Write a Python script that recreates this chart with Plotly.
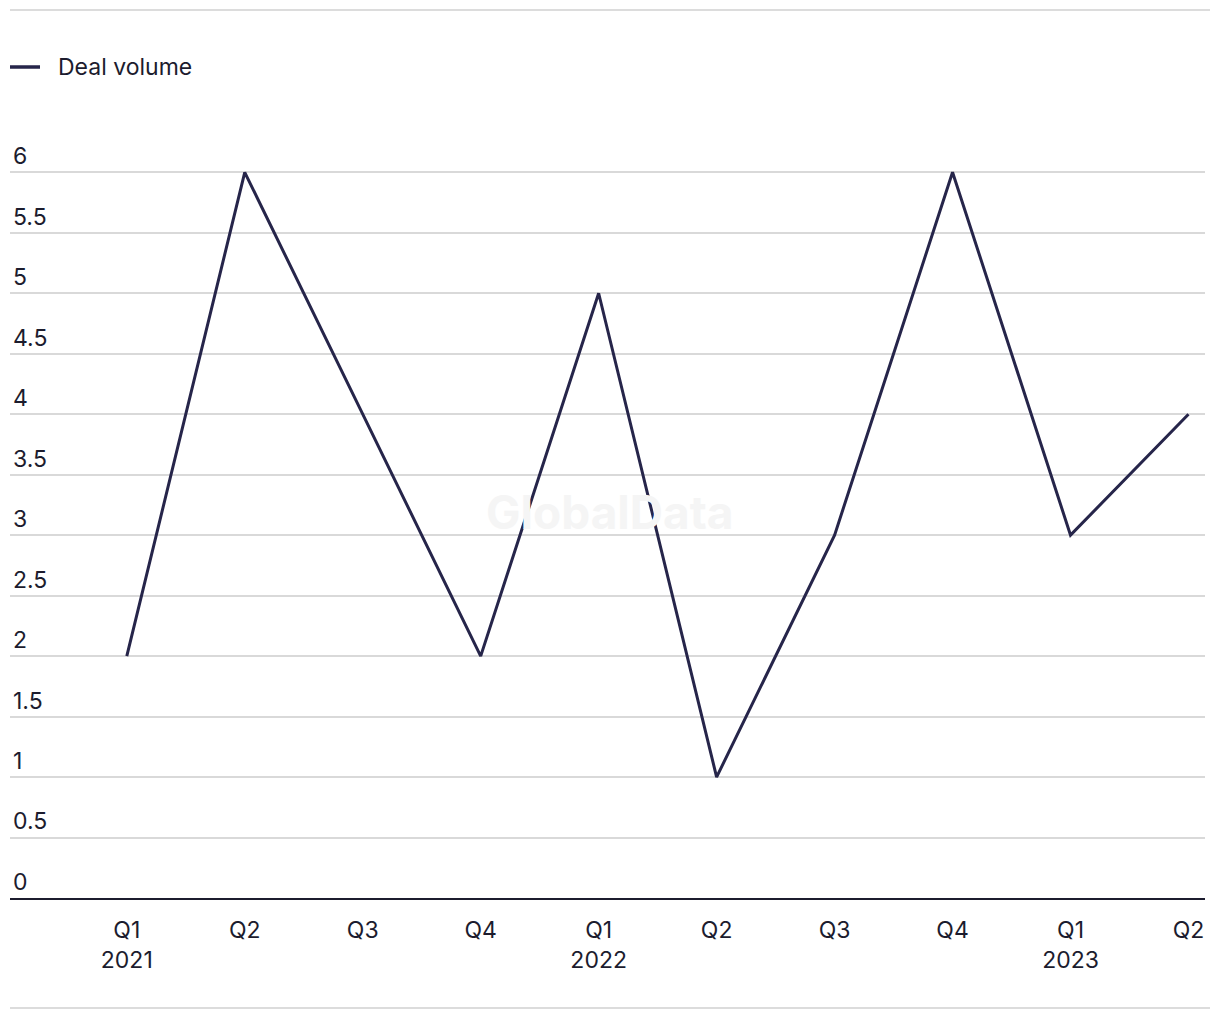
import plotly.graph_objects as go

quarters = ["Q1<br>2021", "Q2", "Q3", "Q4", "Q1<br>2022", "Q2", "Q3", "Q4", "Q1<br>2023", "Q2"]
deal_volume = [2, 6, 4, 2, 5, 1, 3, 6, 3, 4]
y_ticks = [0, 0.5, 1, 1.5, 2, 2.5, 3, 3.5, 4, 4.5, 5, 5.5, 6]
y_tick_text = ["0", "0.5", "1", "1.5", "2", "2.5", "3", "3.5", "4", "4.5", "5", "5.5", "6"]
series_name = "Deal volume"

x_idx = list(range(len(quarters)))
text_color = "#1c1c2e"
line_color = "#26254a"
font_family = "Inter, 'Liberation Sans', sans-serif"

W, H = 1212, 1012
L, R, T, B = 2, 15, 128, 122
plot_w = W - L - R
plot_h = H - T - B


def py(screen_y):
    # screen y (page px, figure offset by 8px body margin) -> paper y
    return (H + 8 - B - screen_y) / plot_h


def px(screen_x):
    return (screen_x - 8 - L) / plot_w


fig = go.Figure()
fig.add_trace(go.Scatter(
    x=x_idx, y=deal_volume, mode="lines", name=series_name,
    line=dict(color=line_color, width=3), cliponaxis=False, showlegend=False,
))

fig.update_layout(
    width=W, height=H,
    margin=dict(l=L, r=R, t=T, b=B),
    paper_bgcolor="white", plot_bgcolor="white",
    font=dict(family=font_family, size=23, color=text_color),
    showlegend=False,
    xaxis=dict(
        range=[-0.99, 9.14], tickmode="array", tickvals=x_idx, ticktext=quarters,
        showgrid=False, zeroline=False, showline=True, linecolor="#1c1c2e", linewidth=2,
        ticks="", ticklabelstandoff=10, tickfont=dict(size=23, color=text_color), fixedrange=True,
    ),
    yaxis=dict(
        range=[0, 6.3], tickmode="array", tickvals=y_ticks, ticktext=y_tick_text,
        showgrid=True, gridcolor="#d9d9d9", gridwidth=1.5, zeroline=False,
        showline=False, ticks="", ticklabelposition="inside top",
        tickfont=dict(size=23, color=text_color), fixedrange=True,
    ),
)

# watermark
fig.add_annotation(text="<b>GlobalData</b>", xref="paper", yref="paper", x=px(610), y=py(512),
                   showarrow=False, font=dict(size=46, color="#f5f5f5", family=font_family))

# legend (symbol + label)
fig.add_shape(type="line", xref="paper", yref="paper", x0=px(10), x1=px(40), y0=py(67), y1=py(67),
              line=dict(color=line_color, width=3.5))
fig.add_annotation(text=series_name, xref="paper", yref="paper", x=px(56), y=py(67),
                   xanchor="left", yanchor="middle", showarrow=False,
                   font=dict(size=23, color=text_color, family=font_family))

# frame lines top and bottom
for yy in [10, 1008]:
    fig.add_shape(type="line", xref="paper", yref="paper", x0=px(10), x1=px(1210),
                  y0=py(yy), y1=py(yy), line=dict(color="#dcdcdc", width=2), layer="below")

fig.write_html("out.html")
